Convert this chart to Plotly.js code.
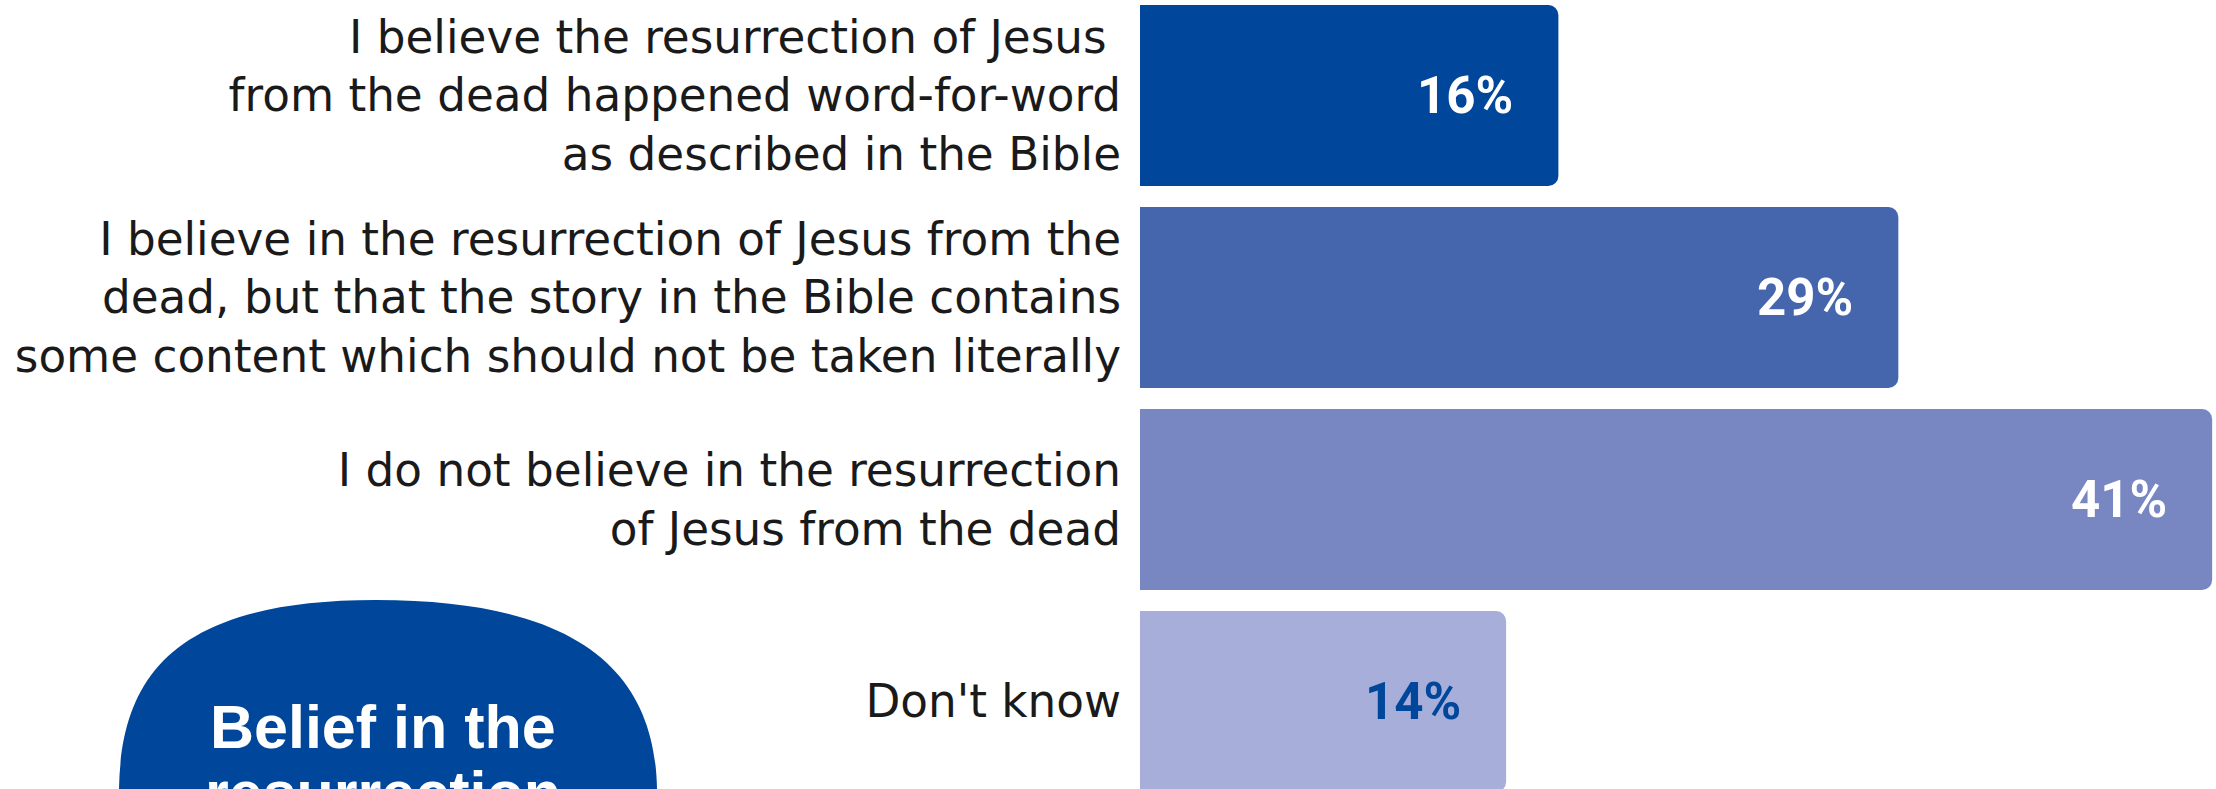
<!DOCTYPE html>
<html>
<head>
<meta charset="utf-8">
<script src="https://cdn.plot.ly/plotly-3.0.1.min.js"></script>
<style>
  html, body { margin: 0; padding: 0; background: #ffffff; }
  #chart { width: 2216px; height: 789px; }
</style>
</head>
<body>
<div id="chart"></div>
<script>
// ---- Data ----
const categories = [
  "I believe the resurrection of Jesus\u00a0<br>from the dead happened word-for-word<br>as described in the Bible",
  "I believe in the resurrection of Jesus from the<br>dead, but that the story in the Bible contains<br>some content which should not be taken literally",
  "I do not believe in the resurrection<br>of Jesus from the dead",
  "Don't know"
];
const values = [16, 29, 41, 14];
const valueLabels = ["16%", "29%", "41%", "14%"];
const barColors = ["#00479b", "#4565ad", "#7887c2", "#a7aed9"];
const labelColors = ["#ffffff", "#ffffff", "#ffffff", "#00479b"];
const badgeLines = ["Belief in the", "resurrection"];

// ---- Geometry helpers (pixel -> paper) ----
const W = 2216, H = 789, L = 1140;
const PW = W - L;
function px(x) { return (x - L) / PW; }
function py(y) { return 1 - y / H; }
function pt(x, y) { return px(x).toFixed(5) + "," + py(y).toFixed(5); }

const blobPath =
  "M" + pt(117, 840) +
  " L" + pt(119, 789) +
  " C" + pt(121, 680) + " " + pt(170, 600) + " " + pt(376, 600) +
  " C" + pt(590, 600) + " " + pt(655, 680) + " " + pt(657, 789) +
  " L" + pt(659, 840) + " Z";

const trace = {
  type: "bar",
  orientation: "h",
  x: values,
  y: categories,
  marker: { color: barColors, cornerradius: 10, line: { width: 0 } },
  hoverinfo: "skip"
};

const annotations = values.map((v, i) => ({
  x: v, y: categories[i], xref: "x", yref: "y",
  text: "<b>" + valueLabels[i] + "</b>",
  showarrow: false, xanchor: "right", yanchor: "middle", xshift: -43,
  font: { family: "Roboto, Arial, sans-serif", size: 51, color: labelColors[i] }
}));

annotations.push({
  x: px(383), y: py(727), xref: "paper", yref: "paper",
  text: "<b>" + badgeLines[0] + "</b>", showarrow: false,
  xanchor: "center", yanchor: "middle",
  font: { family: "Liberation Sans, Arial, sans-serif", size: 61, color: "#ffffff" }
});
annotations.push({
  x: px(383), y: py(793), xref: "paper", yref: "paper",
  text: "<b>" + badgeLines[1] + "</b>", showarrow: false,
  xanchor: "center", yanchor: "middle",
  font: { family: "Liberation Sans, Arial, sans-serif", size: 61, color: "#ffffff" }
});

const layout = {
  width: W, height: H,
  margin: { l: L, r: 0, t: 0, b: 0, pad: 0 },
  paper_bgcolor: "#ffffff",
  plot_bgcolor: "#ffffff",
  showlegend: false,
  bargap: 0.104,
  xaxis: { visible: false, range: [0, PW / 26.15], fixedrange: true },
  yaxis: {
    type: "category",
    range: [3.433, -0.473],
    showgrid: false, zeroline: false, showline: false,
    ticks: "", ticklabelstandoff: 18,
    tickfont: { family: "DejaVu Sans, Arial, sans-serif", size: 45.3, color: "#1a1a1a" },
    fixedrange: true
  },
  shapes: [{
    type: "path", xref: "paper", yref: "paper", path: blobPath,
    fillcolor: "#00479b", line: { width: 0 }, layer: "below"
  }],
  annotations: annotations
};

Plotly.newPlot("chart", [trace], layout, { displayModeBar: false, staticPlot: true });
</script>
</body>
</html>
